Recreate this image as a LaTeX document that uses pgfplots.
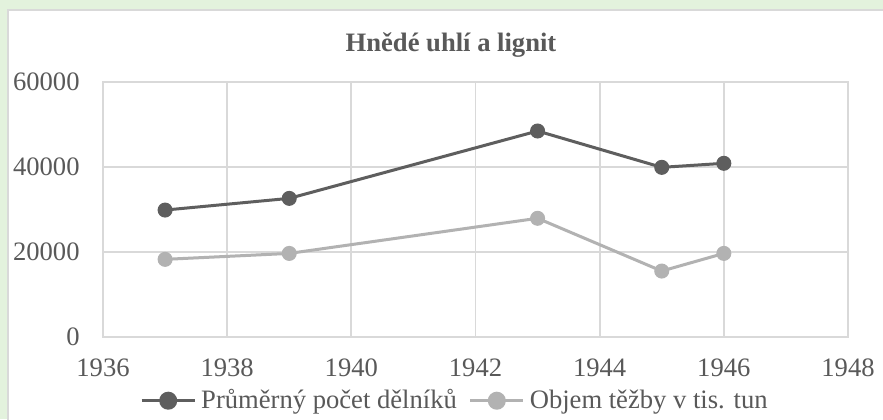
\documentclass[border=0pt]{standalone}
\usepackage{fontspec}
\setmainfont{Liberation Serif}
\usepackage{pgfplots}
\pgfplotsset{compat=1.18}
\definecolor{bggreen}{HTML}{E3F2DD}
\definecolor{gridgray}{HTML}{D9D9D9}
\definecolor{txtgray}{HTML}{595959}
\definecolor{darkser}{HTML}{5E5E5E}
\definecolor{lightser}{HTML}{B2B2B2}
\begin{document}
\begin{tikzpicture}[font=\fontsize{13.3}{16}\selectfont]
\path[use as bounding box, fill=bggreen] (0,0) rectangle (441.5pt,209.5pt);
\draw[gridgray, line width=0.8pt, fill=white] (3.9pt,-10pt) rectangle (460pt,204.6pt);
\node[anchor=base, font=\fontsize{13.3}{16}\selectfont\bfseries, text=txtgray] at (225.5pt,183.6pt) {Hnědé uhlí a lignit};
\begin{axis}[
  at={(51.5pt,41.15pt)}, anchor=south west,
  scale only axis, width=372.5pt, height=127.5pt,
  xmin=1936, xmax=1948, ymin=0, ymax=60000,
  xtick={1936,1938,...,1948}, ytick={0,20000,40000,60000},
  grid=major, major grid style={gridgray, line width=0.85pt},
  axis line style={gridgray, line width=0.85pt},
  major tick length=0pt, tick style={draw=none},
  scaled ticks=false,
  /pgf/number format/assume math mode=true,
  /pgf/number format/1000 sep={},
  ticklabel style={text=txtgray, font=\fontsize{13.3}{16}\selectfont},
  yticklabel style={inner xsep=0pt, xshift=-11.5pt},
  xticklabel style={inner ysep=0pt, yshift=-10.65pt},
  legend columns=2,
  legend style={at={(0.4711,-0.251)}, anchor=center, draw=none, fill=none,
    inner sep=0pt, nodes={inner sep=0pt, text=txtgray, font=\fontsize{13.3}{16}\selectfont},
    column sep=2.5pt, /tikz/every even column/.append style={column sep=6pt}},
]
\addplot[darkser, line width=1.5pt, mark=*, mark size=3.5pt, mark options={fill=darkser, draw=darkser, line width=0.5pt},
  legend image code/.code={\draw[darkser, line width=1.5pt] (0pt,0pt) -- (26.5pt,0pt); \fill[darkser] (13.25pt,0pt) circle (3.75pt);}]
  coordinates {(1937,29800)(1939,32550)(1943,48400)(1945,39850)(1946,40800)};
\addlegendentry{Průměrný počet dělníků}
\addplot[lightser, line width=1.5pt, mark=*, mark size=3.5pt, mark options={fill=lightser, draw=lightser, line width=0.5pt},
  legend image code/.code={\draw[lightser, line width=1.5pt] (0pt,0pt) -- (26.5pt,0pt); \fill[lightser] (13.25pt,0pt) circle (3.75pt);}]
  coordinates {(1937,18200)(1939,19600)(1943,27860)(1945,15450)(1946,19600)};
\addlegendentry{Objem těžby v tis. tun}
\end{axis}
\end{tikzpicture}
\end{document}
